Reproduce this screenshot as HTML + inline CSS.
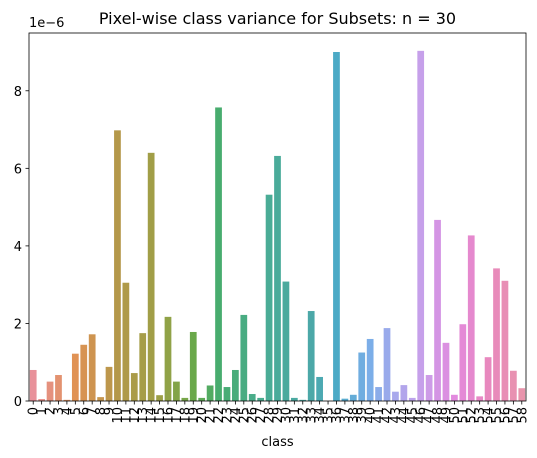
<!DOCTYPE html>
<html><head><meta charset="utf-8"><style>body{margin:0;background:#fff}svg{display:block;font-family:"DejaVu Sans","Liberation Sans",sans-serif}</style></head>
<body>
<svg id="chart" width="537" height="458"></svg>
<script>
const categories = Array.from({length:59},(_,i)=>String(i));
const values = [0.8,0.05,0.5,0.67,0.03,1.22,1.45,1.72,0.1,0.88,6.98,3.05,0.72,1.75,6.4,0.15,2.17,0.5,0.08,1.78,0.08,0.4,7.57,0.36,0.8,2.22,0.18,0.08,5.32,6.32,3.08,0.08,0.03,2.32,0.62,0,9.0,0.06,0.16,1.25,1.6,0.36,1.88,0.24,0.41,0.08,9.03,0.67,4.67,1.5,0.16,1.98,4.27,0.12,1.13,3.42,3.1,0.78,0.33];
const yTicks = [0,2,4,6,8];
const NS="http://www.w3.org/2000/svg";
const svg=document.getElementById('chart');
const L=29,R=526,T=33,B=401,yMax=9.49;
const y=v=>B-(v/yMax)*(B-T);
const bw=(R-L)/categories.length;
const x=i=>L+i*bw;
const keys=[[0,[232,145,154]],[5,[224,146,84]],[10,[180,152,74]],[15,[156,160,70]],[19,[106,168,74]],[22,[72,172,110]],[28,[74,172,150]],[33,[76,168,168]],[36,[76,170,198]],[40,[124,174,232]],[43,[168,168,236]],[46,[198,160,234]],[50,[226,138,222]],[54,[232,136,190]],[58,[232,148,172]]];
function col(i){for(let k=0;k<keys.length-1;k++){const[a,ca]=keys[k],[b,cb]=keys[k+1];if(i>=a&&i<=b){const t=(i-a)/(b-a);return 'rgb('+ca.map((c,j)=>Math.round(c+(cb[j]-c)*t)).join(',')+')';}}return 'rgb(232,148,172)';}
function el(tag,attrs,txt){const e=document.createElementNS(NS,tag);for(const k in attrs)e.setAttribute(k,attrs[k]);if(txt!==undefined)e.textContent=txt;svg.appendChild(e);return e;}
values.forEach((v,i)=>{
  const r=el('rect',{x:x(i)+bw*0.1,y:y(v),width:bw*0.8,height:B-y(v),fill:col(i)});
  
  
  const cx=x(i)+bw/2;
  const tk=el('line',{x1:cx,x2:cx,y1:B,y2:B+3.5,stroke:'#000','stroke-width':0.8});
  
  
  const t=el('text',{x:cx+4.5,y:B+6,'font-size':13,'text-anchor':'end',transform:`rotate(-90 ${cx+4.5} ${B+6})`},categories[i]);
  
  
});
yTicks.forEach(v=>{
  const tk=el('line',{x1:L-3.5,x2:L,y1:y(v),y2:y(v),stroke:'#000','stroke-width':0.8});
  
  
  const t=el('text',{x:L-7,y:y(v)+5,'font-size':13,'text-anchor':'end'},String(v));
  
  
});
const fr=el('rect',{x:L,y:T,width:R-L,height:B-T,fill:'none',stroke:'#000','stroke-width':0.8});


const ti=el('text',{x:(L+R)/2,y:24,'font-size':16,'text-anchor':'middle'},'Pixel-wise class variance for Subsets: n = 30');


const ex=el('text',{x:L,y:27,'font-size':13},'1e\u22126');


const xl=el('text',{x:(L+R)/2,y:446,'font-size':13,'text-anchor':'middle'},'class');


</script>
</body></html>
